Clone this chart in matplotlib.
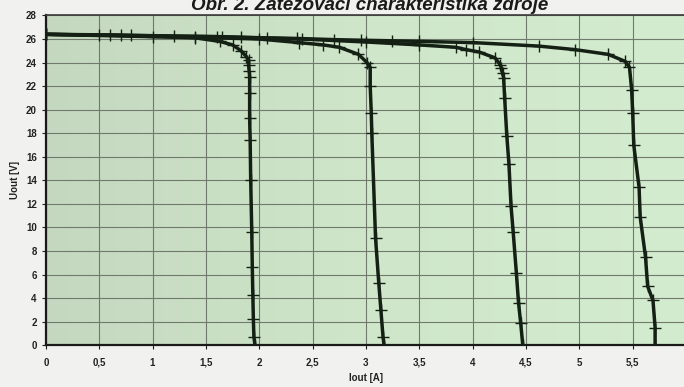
import matplotlib
matplotlib.use("Agg")
import matplotlib.pyplot as plt
import numpy as np
from matplotlib.colors import LinearSegmentedColormap

# ---- data ----
c1_x = [0, 0.5, 1.0, 1.4, 1.63, 1.75, 1.83, 1.88, 1.90, 1.90, 1.905, 1.91, 1.91, 1.91, 1.915, 1.92, 1.93, 1.935, 1.94, 1.945, 1.95, 1.96]
c1_y = [26.4, 26.3, 26.2, 26.1, 25.8, 25.5, 25.0, 24.5, 24.2, 23.8, 23.3, 22.8, 21.4, 19.3, 17.4, 14.0, 9.6, 6.6, 4.3, 2.2, 0.7, 0]

c2_x = [0, 0.7, 1.4, 2.0, 2.37, 2.6, 2.75, 2.93, 3.01, 3.04, 3.04, 3.05, 3.055, 3.09, 3.12, 3.14, 3.16, 3.17]
c2_y = [26.4, 26.3, 26.15, 26.0, 25.7, 25.5, 25.3, 24.7, 24.0, 23.6, 22.0, 19.7, 18.0, 9.1, 5.3, 3.0, 0.7, 0]

c3_x = [0, 0.8, 1.6, 2.4, 3.0, 3.5, 3.84, 3.94, 4.06, 4.21, 4.26, 4.27, 4.28, 4.29, 4.30, 4.32, 4.34, 4.36, 4.38, 4.41, 4.43, 4.45, 4.47]
c3_y = [26.4, 26.3, 26.2, 26.0, 25.75, 25.5, 25.3, 25.1, 24.9, 24.4, 23.8, 23.5, 23.1, 22.7, 21.0, 17.8, 15.4, 11.8, 9.6, 6.1, 3.6, 1.9, 0]

c4_x = [0, 0.6, 1.2, 1.65, 1.83, 2.07, 2.35, 2.7, 2.95, 3.24, 3.5, 4.0, 4.62, 4.96, 5.27, 5.43, 5.47, 5.49, 5.50, 5.51, 5.56, 5.57, 5.62, 5.64, 5.69, 5.71, 5.71]
c4_y = [26.4, 26.35, 26.25, 26.2, 26.15, 26.1, 26.05, 25.95, 25.9, 25.85, 25.8, 25.7, 25.4, 25.1, 24.7, 24.1, 23.6, 21.7, 19.7, 17.0, 13.4, 10.9, 7.5, 5.0, 3.8, 1.5, 0]

x_ticks = [0, 0.5, 1, 1.5, 2, 2.5, 3, 3.5, 4, 4.5, 5, 5.5, 6]
x_tick_labels = ["0", "0,5", "1", "1,5", "2", "2,5", "3", "3,5", "4", "4,5", "5", "5,5", "6"]
y_ticks = list(range(0, 29, 2))

title_text = "Obr. 2. Zatěžovací charakteristika zdroje"
x_label = "Iout [A]"
y_label = "Uout [V]"

# ---- figure ----
plt.rcParams['font.family'] = ['Liberation Sans', 'DejaVu Sans']
fig = plt.figure(figsize=(6.84, 3.87), dpi=100, facecolor='#f1f1ef')
ax = fig.add_axes([0.067, 0.108, 0.936, 0.852])

# background gradient of the plot area
cmap = LinearSegmentedColormap.from_list('bg', ['#c4d8bf', '#cfe6ca', '#d3ebcf'])
grad = np.linspace(0, 1, 256).reshape(1, -1)
ax.imshow(grad, extent=[0, 6, 0, 28], aspect='auto', cmap=cmap, zorder=0)

ax.set_xlim(0, 6)
ax.set_ylim(0, 28)
ax.set_xticks(x_ticks)
ax.set_xticklabels(x_tick_labels)
ax.set_yticks(y_ticks)
ax.grid(True, color='#6f7a6c', linewidth=0.8, zorder=1)
ax.set_axisbelow(True)

line_col = '#142014'
for xs, ys in [(c1_x, c1_y), (c2_x, c2_y), (c3_x, c3_y), (c4_x, c4_y)]:
    ax.plot(xs, ys, color=line_col, linewidth=2.5, marker='+', markersize=8,
            markeredgewidth=1.0, zorder=3, solid_joinstyle='round')

for s in ['left', 'bottom']:
    ax.spines[s].set_color('#1a1a1a')
    ax.spines[s].set_linewidth(1.6)
for s in ['top', 'right']:
    ax.spines[s].set_color('#3a3a3a')
    ax.spines[s].set_linewidth(1.2)

ax.tick_params(axis='both', labelsize=7, colors='#222222', length=3, width=0.8)
ax.tick_params(axis='x', pad=6)
for lab in ax.get_xticklabels() + ax.get_yticklabels():
    lab.set_fontweight('bold')

ax.set_xlabel(x_label, fontsize=7, fontweight='bold', color='#222222', labelpad=4)
ax.set_ylabel(y_label, fontsize=7, fontweight='bold', color='#222222', labelpad=4)

fig.text(0.54, 0.974, title_text, ha='center', va='baseline', fontsize=13.5,
         fontweight='bold', fontstyle='italic', color='#1a1a1a')

fig.savefig('out.png', dpi=100, facecolor=fig.get_facecolor())
